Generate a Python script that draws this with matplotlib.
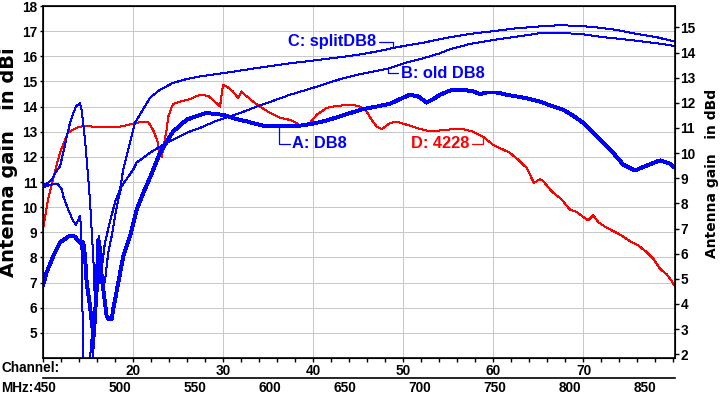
import matplotlib.pyplot as plt
import numpy as np

# gain curves: (MHz, dBi)
curve_a = [(448.9, 6.93), (451.1, 7.4), (455.5, 8.05), (460, 8.6), (466.7, 8.87), (470, 8.83),
           (472.2, 8.65), (474.5, 8.52), (475.5, 8.6), (476.7, 8.05), (477.8, 7.0), (480, 6.07),
           (481.8, 5.14), (482.2, 4.75), (482.9, 5.14), (483.3, 5.67), (484.5, 6.73), (485.5, 8.7),
           (486.7, 8.32), (487.8, 7.26), (490, 6.2), (491.1, 5.67), (492.7, 5.54), (494.5, 5.54),
           (495.5, 5.94), (499.3, 7.13), (502.2, 8.05), (506.7, 8.85), (511.1, 9.9), (515.5, 10.56),
           (520, 11.17), (526.7, 12.16), (535.3, 13.0), (544.5, 13.48), (553.3, 13.67), (557.8, 13.75),
           (562.2, 13.71), (568.9, 13.67), (575.5, 13.54), (584.5, 13.41), (595.5, 13.24), (606.7, 13.21),
           (620, 13.24), (626.7, 13.3), (635.5, 13.41), (644.5, 13.57), (653.3, 13.74), (662.2, 13.9),
           (671.1, 14.0), (680, 14.11), (686.7, 14.3), (693.3, 14.47), (698.9, 14.4), (704.5, 14.16),
           (708.9, 14.3), (713.3, 14.47), (720, 14.64), (728.9, 14.67), (735.5, 14.6), (740, 14.5),
           (744.5, 14.56), (751.1, 14.56), (757.8, 14.47), (766.7, 14.38), (773.3, 14.3), (780, 14.2),
           (788.9, 14.0), (795.5, 13.87), (802.2, 13.63), (808.9, 13.35), (815.5, 12.95), (822.2, 12.55),
           (828.9, 12.15), (835.5, 11.69), (843.3, 11.46), (851.1, 11.65), (860, 11.86), (866.7, 11.73),
           (870, 11.56)]

curve_b = [(448.7, 10.78), (452, 10.86), (456.7, 10.94), (458.7, 10.9), (461.3, 10.7), (462.2, 10.43),
           (465.5, 9.9), (468.9, 9.44), (470.7, 9.3), (473.3, 9.64), (473.8, 9.4), (474.5, 8.05),
           (474.9, 6.73), (475.1, 5.4), (475.5, 4.07), (476, 3.35), (479.3, 3.35), (480.2, 4.07),
           (481.3, 4.94), (482.7, 5.74), (484.5, 7.26), (485.5, 8.7), (486.2, 8.85), (486.7, 8.32),
           (487.8, 7.52), (488.5, 6.73), (490, 7.05), (492.2, 8.2), (494.5, 8.85), (496.7, 9.64),
           (498.9, 10.3), (501.1, 10.83), (508.9, 11.5), (511.1, 11.77), (520, 12.16), (528.7, 12.48),
           (535.3, 12.68), (544.5, 12.96), (553.3, 13.15), (564.5, 13.44), (580, 13.74), (591.1, 14.0),
           (602.2, 14.23), (613.3, 14.47), (624.5, 14.67), (635.5, 14.87), (646.7, 15.09), (657.8, 15.26),
           (668.9, 15.39), (680, 15.53), (691.1, 15.75), (702.2, 15.92), (713.3, 16.12), (720, 16.28),
           (733.3, 16.49), (748.9, 16.65), (764.5, 16.78), (780, 16.92), (795.5, 16.92), (806.7, 16.89),
           (822.2, 16.76), (840, 16.65), (857.8, 16.52), (870, 16.41)]

curve_c = [(448.7, 10.86), (451.3, 10.94), (454.7, 11.1), (457.3, 11.41), (460, 11.62), (462.2, 12.16),
           (464.5, 12.8), (466.7, 13.35), (468.9, 13.74), (470.7, 14.0), (473.3, 14.14), (474.5, 13.87),
           (476.7, 12.68), (478.9, 11.1), (480, 10.3), (481.1, 9.1), (482.2, 8.05), (482.9, 7.0),
           (483.3, 6.06), (482.7, 5.0), (482.2, 4.47), (481.8, 3.75), (482.7, 4.75), (483.7, 6.33),
           (484.7, 7.7), (485.7, 8.1), (486.7, 7.0), (487.7, 7.5), (490, 8.6), (493.3, 9.4),
           (496.7, 10.2), (500, 10.7), (502.2, 11.5), (510, 13.35), (520, 14.35), (526.7, 14.67),
           (535.3, 14.94), (544.7, 15.1), (553.3, 15.2), (568.9, 15.33), (591.1, 15.53), (613.3, 15.72),
           (635.5, 15.88), (657.8, 16.05), (671.1, 16.19), (684.5, 16.36), (702.2, 16.54), (713.3, 16.68),
           (720, 16.76), (733.3, 16.89), (748.9, 17.0), (762.2, 17.1), (777.8, 17.18), (791.1, 17.23),
           (804.5, 17.22), (817.8, 17.15), (831.1, 17.05), (844.5, 16.89), (857.8, 16.76), (870, 16.58)]

curve_d = [(448.7, 9.11), (452, 10.3), (455.3, 11.1), (460, 12.17), (465.3, 12.96), (471.3, 13.16),
           (476.7, 13.24), (482, 13.2), (500, 13.2), (508.7, 13.32), (515.3, 13.4), (518.7, 13.4),
           (522, 13.08), (524.7, 12.68), (526.7, 12.16), (527.8, 12.0), (529.3, 12.48), (531.1, 13.08),
           (532.2, 13.6), (535.3, 14.1), (540, 14.2), (546.7, 14.3), (553.3, 14.47), (558.7, 14.43),
           (562, 14.27), (566.7, 14.0), (568.7, 14.87), (571.1, 14.8), (575.3, 14.6), (578.7, 14.35),
           (581.1, 14.6), (583.3, 14.47), (588.7, 14.2), (593.3, 14.0), (600, 13.75), (606.7, 13.55),
           (613.3, 13.47), (617.8, 13.35), (620, 13.24), (626.7, 13.35), (631.1, 13.67), (637.8, 13.95),
           (644.5, 14.03), (655.3, 14.07), (660, 14.0), (664.5, 13.8), (667.8, 13.47), (671.1, 13.2),
           (674.5, 13.1), (680, 13.35), (684.5, 13.4), (691.1, 13.28), (697.8, 13.15), (706.7, 13.01),
           (722, 13.1), (728.7, 13.1), (735.3, 13.0), (742, 12.8), (748.7, 12.48), (760, 12.16),
           (766.7, 11.82), (771.1, 11.56), (776, 10.96), (780, 11.12), (782.2, 11.03), (787.8, 10.63),
           (794.5, 10.3), (800, 9.9), (804.5, 9.81), (808.9, 9.61), (812.2, 9.47), (815.5, 9.68),
           (818.9, 9.4), (824.5, 9.18), (833.3, 8.91), (840, 8.65), (845.5, 8.48), (851.1, 8.21),
           (855.5, 7.95), (860, 7.55), (864.5, 7.33), (867.8, 7.06), (870, 6.84)]

channels_major = [20, 30, 40, 50, 60, 70]
channels_minor = list(range(10, 82, 2))
mhz_ticks = [450, 500, 550, 600, 650, 700, 750, 800, 850]
dbi_ticks = list(range(5, 19))
dbd_ticks = list(range(2, 16))
DBD_OFFSET = 2.15


def chan_to_mhz(ch):
    # US UHF channel centre frequency
    return 389 + 6 * np.asarray(ch)


W, H = 722, 396
fig = plt.figure(figsize=(W / 100, H / 100), dpi=100)
ax = fig.add_axes([43 / W, 1 - 358 / H, 632 / W, 352 / H])

tickfont = dict(family='Liberation Sans', weight='bold', size=9.8)
blue = '#0000ff'
red = '#ff0000'

# pixel-style lines like the original screenshot
x, y = zip(*curve_d)
ax.plot(x, y, color=red, lw=0.72, antialiased=False)
x, y = zip(*curve_b)
ax.plot(x, y, color=blue, lw=0.72, antialiased=False)
x, y = zip(*curve_c)
ax.plot(x, y, color=blue, lw=0.72, antialiased=False)
x, y = zip(*curve_a)
ax.plot(x, y, color=blue, lw=2.1, antialiased=False)

ax.set_xlim(448.7, 870)
ax.set_ylim(4, 18)

# channel axis on the bottom spine
ax.set_xticks(chan_to_mhz(channels_major))
ax.set_xticklabels([str(c) for c in channels_major], fontdict=tickfont)
ax.set_xticks(chan_to_mhz(channels_minor), minor=True)
ax.tick_params(axis='x', which='both', direction='out', length=3, width=1, pad=1)
ax.set_yticks(dbi_ticks)
ax.set_yticklabels([str(v) for v in dbi_ticks], fontdict=tickfont)
ax.tick_params(axis='y', direction='out', length=2, width=1, pad=2)
ax.grid(True, which='major', color='#c8c8c8', lw=0.72, antialiased=False)
ax.set_axisbelow(True)
for s in ax.spines.values():
    s.set_linewidth(1.2)

# right axis in dBd
ax2 = ax.twinx()
ax2.set_ylim(4 - DBD_OFFSET, 18 - DBD_OFFSET)
ax2.set_yticks(dbd_ticks)
ax2.set_yticklabels([str(v) for v in dbd_ticks], fontdict=tickfont)
ax2.tick_params(axis='y', direction='out', length=3, width=1, pad=1)

# MHz axis below the channel axis
sec = ax.secondary_xaxis(-20.3 / 352)
sec.set_xticks(mhz_ticks)
sec.set_xticklabels([str(m) for m in mhz_ticks], fontdict=tickfont)
sec.tick_params(length=0, pad=2)
sec.spines['bottom'].set_linewidth(1.2)

fig.text(2 / W, 1 - 368 / H, 'Channel:', ha='left', va='center', **tickfont)
fig.text(1 / W, 1 - 388 / H, 'MHz:', ha='left', va='center', **tickfont)

fig.text(9 / W, 1 - 162 / H, 'Antenna gain   in dBi', rotation=90, ha='center', va='center',
         family='DejaVu Sans', weight='bold', size=14)
fig.text(712 / W, 1 - 173 / H, 'Antenna gain   in dBd', rotation=90, ha='center', va='center',
         family='DejaVu Sans', weight='bold', size=10)

# curve labels with square leaders
labfont = dict(family='Liberation Sans', weight='bold', size=11.8)


def label(text, curve, xtext, ytext, xhit, color, ha):
    cx, cy = zip(*curve)
    yhit = np.interp(xhit, cx, cy)
    ax.annotate(text, xy=(xhit, yhit), xytext=(xtext, ytext), ha=ha, va='center',
                color=color, **labfont,
                arrowprops=dict(arrowstyle='-', color=color, lw=0.9, shrinkA=0, shrinkB=0,
                                connectionstyle='angle,angleA=0,angleB=90,rad=0'))


label('C: splitDB8', curve_c, 671, 16.58, 682.2, blue, 'right')
label('B: old DB8', curve_b, 687.5, 15.33, 678.9, blue, 'left')
label('A: DB8', curve_a, 615, 12.52, 606.2, blue, 'left')
label('D: 4228', curve_d, 733, 12.52, 742.2, red, 'right')

fig.savefig('out.png', dpi=100)
